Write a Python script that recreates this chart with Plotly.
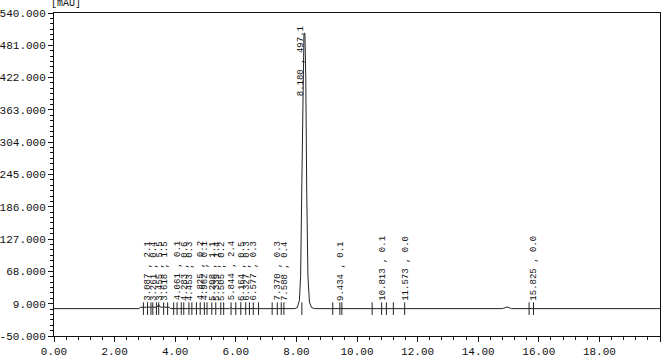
import plotly.graph_objects as go

# Chromatogram trace (time in min, signal in mAU)
time_min = [0.0, 2.80, 2.85, 3.05, 3.09, 3.13, 3.22, 3.26, 3.30, 3.40, 3.455, 3.50, 3.58, 3.62, 3.66, 3.80, 3.85,
            5.80, 5.84, 5.88, 7.95, 8.03, 8.10, 8.14, 8.18, 8.22, 8.25, 8.28, 8.31, 8.34, 8.38, 8.43, 8.50, 8.60,
            14.80, 14.87, 14.95, 15.03, 15.10, 20.0]
signal_mau = [0, 0, 2.5, 2.5, 4.5, 2.5, 2.5, 3.5, 2.5, 2.5, 7.0, 3.0, 2.5, 4.0, 2.5, 2.5, 0,
              0, 2.0, 0, 0, 2, 15, 60, 230, 440, 503, 503, 420, 220, 60, 12, 2, 0,
              0, 1.5, 3.0, 1.5, 0, 0]

# Peak labels: retention time and value
peak_rt = [3.087, 3.261, 3.455, 3.618, 4.061, 4.283, 4.453, 4.825, 4.962, 5.208, 5.339, 5.505,
           5.844, 6.164, 6.327, 6.577, 7.370, 7.588, 8.180, 9.434, 10.813, 11.573, 15.825]
peak_val = ["2.1", "0.4", "5.5", "1.5", "0.1", "0.6", "0.3", "0.2", "0.1", "1.1", "1.4", "0.2",
            "2.4", "0.5", "0.3", "0.3", "0.3", "0.4", "497.1", "0.1", "0.1", "0.0", "0.0"]
main_peak_label_y = 384

# Extra integration marks on the baseline
mark_t = [2.95, 3.20, 3.38, 3.75, 3.95, 4.20, 4.55, 4.70, 5.05, 5.60, 6.00, 6.45, 6.75, 7.20, 7.50,
          9.20, 9.50, 10.50, 10.97, 11.20, 15.68]

y_ticks = [-50, 9, 68, 127, 186, 245, 304, 363, 422, 481, 540]
y_ticktext = ["-50.000", "9.000", "68.000", "127.000", "186.000", "245.000", "304.000",
              "363.000", "422.000", "481.000", "540.000"]
x_ticks = [0, 2, 4, 6, 8, 10, 12, 14, 16, 18, 20]
x_ticktext = ["0.00", "2.00", "4.00", "6.00", "8.00", "10.00", "12.00", "14.00", "16.00", "18.00", "20.00"]

mono = "Liberation Mono"

fig = go.Figure()
fig.add_trace(go.Scatter(x=time_min, y=signal_mau, mode="lines",
                         line=dict(color="#222222", width=1), hoverinfo="skip"))
fig.add_trace(go.Scatter(x=peak_rt + mark_t, y=[0] * (len(peak_rt) + len(mark_t)), mode="markers",
                         marker=dict(symbol="line-ns", size=9, line=dict(color="#222222", width=1)),
                         hoverinfo="skip"))

for rt, v in zip(peak_rt, peak_val):
    big = float(v) > 100
    fig.add_annotation(x=rt, y=main_peak_label_y if big else 0, text=f"{rt:.3f} , {v}",
                       textangle=-90, showarrow=False, xanchor="center", yanchor="bottom",
                       xshift=0 if big else 1, yshift=0 if big else 6,
                       font=dict(family=mono, size=9, color="#111111"))

fig.add_annotation(xref="paper", yref="paper", x=0, y=1, text="[mAU]", showarrow=False,
                   xanchor="left", yanchor="bottom", xshift=-5, yshift=2,
                   font=dict(family=mono, size=10, color="#111111"))

fig.update_layout(
    width=669, height=355,
    margin=dict(l=54, r=9, t=13, b=19),
    paper_bgcolor="white", plot_bgcolor="white",
    showlegend=False,
    font=dict(family=mono, size=11, color="#111111"),
)
fig.update_xaxes(range=[0, 20], tickmode="array", tickvals=x_ticks, ticktext=x_ticktext, automargin=False,
                 ticks="outside", ticklen=5, tickcolor="#111111", showgrid=False, zeroline=False,
                 showline=True, linecolor="#111111", linewidth=1, mirror=True,
                 minor=dict(ticks="outside", ticklen=3, tick0=0, dtick=0.4, tickcolor="#111111", showgrid=False),
                 tickfont=dict(family=mono, size=11))
fig.update_yaxes(range=[-50, 540], tickmode="array", tickvals=y_ticks, ticktext=y_ticktext, automargin=False,
                 ticks="outside", ticklen=5, tickcolor="#111111", showgrid=False, zeroline=False,
                 showline=True, linecolor="#111111", linewidth=1, mirror=True,
                 minor=dict(ticks="outside", ticklen=3, tick0=-50, dtick=59 / 6, tickcolor="#111111", showgrid=False),
                 tickfont=dict(family=mono, size=11))

fig.write_html("out.html")
